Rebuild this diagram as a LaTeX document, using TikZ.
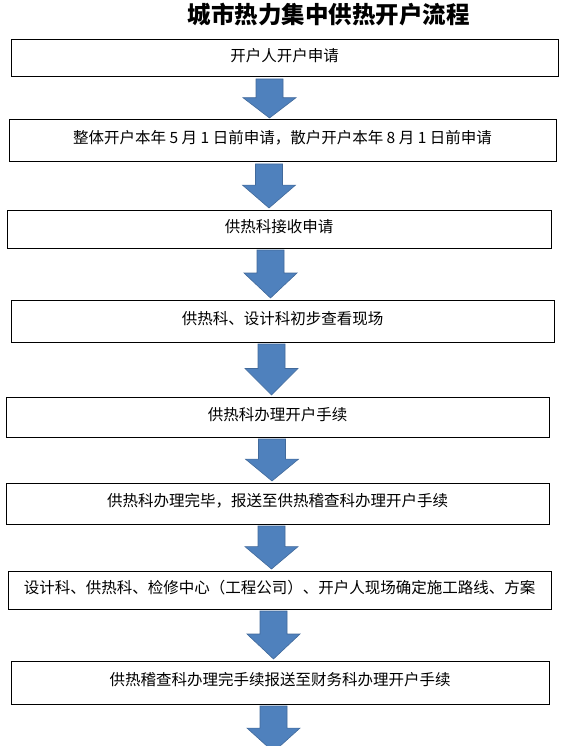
\documentclass[tikz,border=0pt]{standalone}
\usepackage{fontspec}
\newfontfamily\cjk{Noto Sans CJK SC}
\usetikzlibrary{calc}

\definecolor{arrblue}{HTML}{4F81BD}
\definecolor{arredge}{HTML}{41699A}

\tikzset{
  stepbox/.style={draw, line width=1pt, inner sep=0pt, outer sep=0pt,
    text height=11pt, text depth=5pt,
    font=\cjk\fontsize{15.5}{18}\selectfont},
  fatarrow/.style={fill=arrblue, draw=arredge, line width=0.6pt, line join=miter}
}

% block arrow down: axis x, from anchor, to anchor
\newcommand{\blockdown}[3]{%
  \coordinate (top) at ($(#1,0 |- #2)+(0,2)$);
  \coordinate (tip) at ($(#1,0 |- #3)+(0,-2)$);
  \coordinate (neck) at ($(top)!0.48!(tip)$);
  \draw[fatarrow] ($(top)+(-13.5,0)$) -- ($(neck)+(-13.5,0)$) -- ($(neck)+(-26.5,0)$)
    -- (tip) -- ($(neck)+(26.5,0)$) -- ($(neck)+(13.5,0)$) -- ($(top)+(13.5,0)$) -- cycle;
}

\begin{document}
\begin{tikzpicture}[x=1pt, y=-1pt]

\useasboundingbox (0,0) rectangle (564,746);

\node[font=\cjk\bfseries\fontsize{23.5}{26}\selectfont] (title) at (328.5,15) {城市热力集中供热开户流程};

% steps
\node[stepbox, minimum width=547, minimum height=37] (apply) at (284.5,58.5) {开户人开户申请};
\node[stepbox, minimum width=547, minimum height=42] (dates) at (282.5,141) {整体开户本年 5 月 1 日前申请，散户开户本年 8 月 1 日前申请};
\node[stepbox, minimum width=544, minimum height=38] (receive) at (279,229) {供热科接收申请};
\node[stepbox, minimum width=543, minimum height=42] (survey) at (282.5,321) {供热科、设计科初步查看现场};
\node[stepbox, minimum width=543, minimum height=40] (handle) at (277.5,417) {供热科办理开户手续};
\node[stepbox, minimum width=543, minimum height=41] (audit) at (277.5,503.5) {供热科办理完毕，报送至供热稽查科办理开户手续};
\node[stepbox, minimum width=543, minimum height=38] (route) at (279.5,590) {设计科、供热科、检修中心（工程公司）、开户人现场确定施工路线、方案};
\node[stepbox, minimum width=538, minimum height=43] (finance) at (280,682.5) {供热稽查科办理完手续报送至财务科办理开户手续};
\coordinate (tail) at (273.5,754);

% arrows
\blockdown{269.5}{apply.south}{dates.north}
\blockdown{269}{dates.south}{receive.north}
\blockdown{270.5}{receive.south}{survey.north}
\blockdown{271.5}{survey.south}{handle.north}
\blockdown{272}{handle.south}{audit.north}
\blockdown{271.5}{audit.south}{route.north}
\blockdown{273.5}{route.south}{finance.north}
\blockdown{273.5}{finance.south}{tail}

\end{tikzpicture}
\end{document}
